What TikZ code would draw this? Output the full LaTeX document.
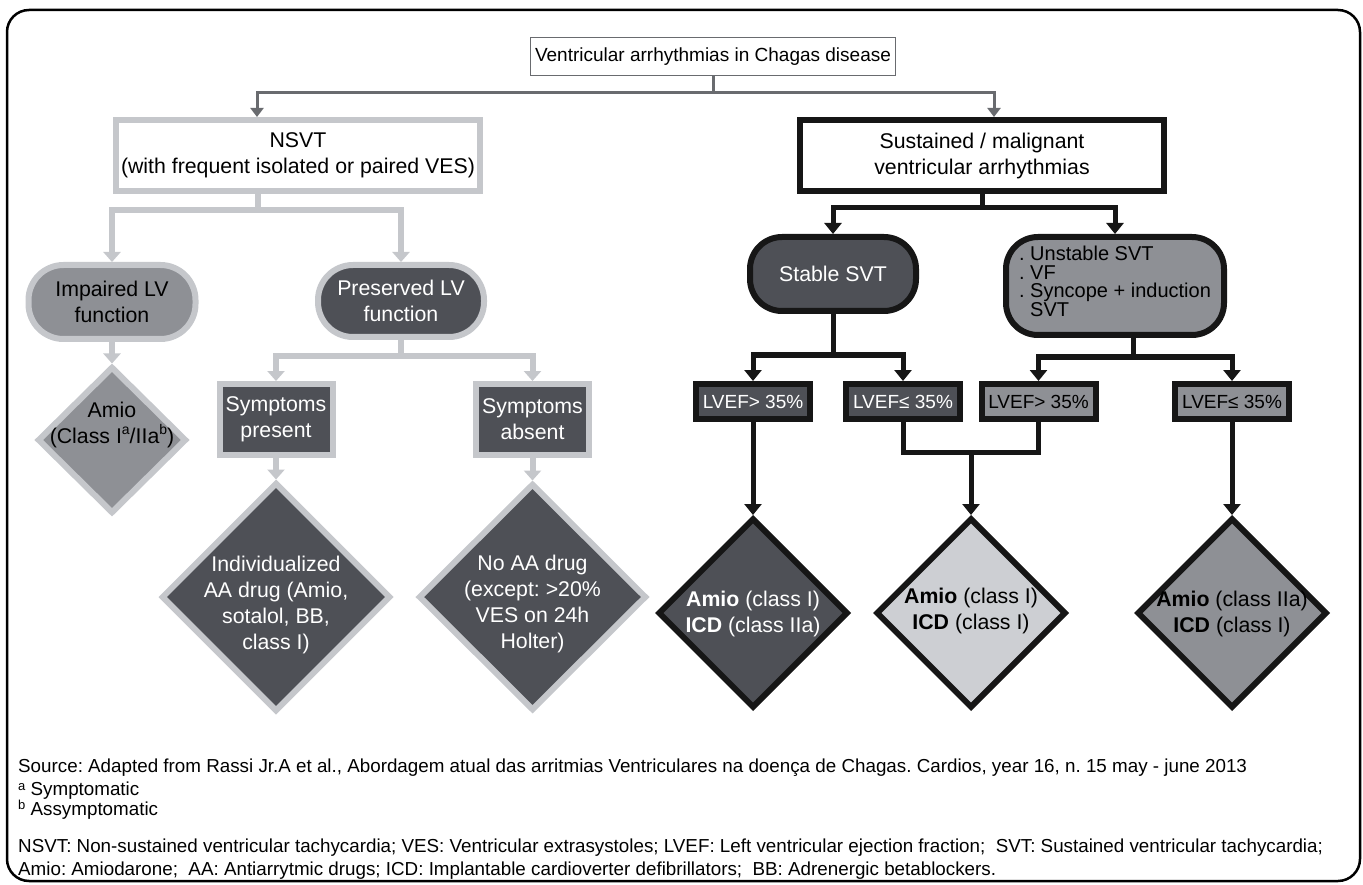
\documentclass[tikz,border=0pt]{standalone}
\usepackage{fontspec}
\setmainfont{Liberation Sans}
\usetikzlibrary{shapes.geometric,arrows.meta}
\definecolor{lgray}{RGB}{197,199,203}
\definecolor{dkfill}{RGB}{78,80,86}
\definecolor{mdfill}{RGB}{142,144,149}
\definecolor{ltfill}{RGB}{205,207,211}
\definecolor{topgray}{RGB}{105,107,111}
\definecolor{blk}{RGB}{22,22,22}
\newcommand{\bigtxt}{\fontsize{21.3}{26}\selectfont}
\newcommand{\lvtxt}{\fontsize{19}{22}\selectfont}
\newcommand{\foottxt}{\fontsize{18.8}{21}\selectfont}
\newcommand{\upidx}[1]{\raisebox{0.42em}{\fontsize{14}{14}\selectfont #1}}
\newcommand{\footidx}[1]{\raisebox{0.3em}{\fontsize{13}{13}\selectfont #1}}
\frenchspacing

\begin{document}
\begin{tikzpicture}[x=1pt, y=-1pt,
    box/.style={rectangle, line width=6pt, inner sep=0pt, align=center, font=\bigtxt},
    lgbox/.style={box, draw=lgray},
    bkbox/.style={box, draw=blk},
    dmd/.style={diamond, aspect=1, line width=6pt, inner sep=0pt},
    txt/.style={align=center, inner sep=0pt, font=\bigtxt},
    foot/.style={anchor=west, inner sep=0pt, font=\foottxt},
    gline/.style={draw=topgray, line width=3pt},
    garr/.style={gline, -{Triangle[width=13pt,length=9pt]}},
    lgline/.style={draw=lgray, line width=6pt},
    lgarr/.style={lgline, -{Triangle[width=17pt,length=10pt]}},
    bline/.style={draw=blk, line width=5pt},
    barr/.style={bline, -{Triangle[width=17pt,length=11pt]}}]
        \useasboundingbox (0,0) rectangle (1363,885);
        \draw[line width=2.5pt, rounded corners=22pt] (7,10) rectangle (1360,881);

        % top level
        \node[draw=topgray, line width=1.3pt, fill=white, minimum width=365pt, minimum height=38pt,
            inner sep=0pt, font=\fontsize{19}{23}\selectfont] (title) at (713,56.5)
            {Ventricular arrhythmias in Chagas disease};
        \node[lgbox, fill=white, minimum width=364pt, minimum height=71pt] (nsvt) at (298,155.5)
            {NSVT\\(with frequent isolated or paired VES)};
        \node[bkbox, fill=white, minimum width=364pt, minimum height=71pt] (sust) at (982,155.5)
            {Sustained / malignant\\ventricular arrhythmias};

        % left branch
        \node[lgbox, rounded corners=35pt, fill=mdfill, minimum width=167pt, minimum height=74pt] (imp) at (112,302)
            {Impaired LV\\function};
        \node[lgbox, rounded corners=35pt, fill=dkfill, text=white, minimum width=166pt, minimum height=72pt] (pres) at (401,301)
            {Preserved LV\\function};
        \node[dmd, draw=lgray, fill=mdfill, minimum width=149pt, minimum height=147pt] (amio) at (112,440) {};
        \node[txt] (amiot) at (112,425) {Amio\\(Class I\upidx{a}/IIa\upidx{b})};
        \node[lgbox, fill=dkfill, text=white, minimum width=113pt, minimum height=71pt] (sympres) at (276,419.5)
            {Symptoms\\present};
        \node[lgbox, fill=dkfill, text=white, minimum width=113pt, minimum height=71pt] (symabs) at (532.5,419.5)
            {Symptoms\\absent};
        \node[dmd, draw=lgray, fill=dkfill, minimum width=229pt, minimum height=229pt] (ind) at (276,597) {};
        \node[txt, text=white] (indt) at (276,604.5) {Individualized\\AA drug (Amio,\\sotalol, BB,\\class I)};
        \node[dmd, draw=lgray, fill=dkfill, minimum width=228pt, minimum height=227pt] (noaa) at (532.5,597) {};
        \node[txt, text=white] (noaat) at (532.5,604) {No AA drug\\(except: >20\%\\VES on 24h\\Holter)};

        % right branch
        \node[bkbox, rounded corners=32pt, fill=dkfill, text=white, minimum width=166pt, minimum height=74pt] (stable) at (833,274)
            {Stable SVT};
        \node[bkbox, rounded corners=32pt, fill=mdfill, minimum width=218pt, minimum height=98pt] (unst) at (1115,286) {};
        \node[align=left, inner sep=0pt, font=\fontsize{20}{18.5}\selectfont] (unstt) at (1115,281.5)
            {. Unstable SVT\\. VF\\. Syncope + induction\\\phantom{. }SVT};
        \foreach \nm/\x/\fc/\tc/\lb in {lv1/753/dkfill/white/{LVEF> 35\%}, lv2/903/dkfill/white/{LVEF≤ 35\%},
                lv3/1038.5/mdfill/black/{LVEF> 35\%}, lv4/1232/mdfill/black/{LVEF≤ 35\%}} {
            \node[bkbox, fill=\fc, text=\tc, font=\lvtxt, minimum width=114pt, minimum height=35pt] (\nm) at (\x,401.5) {\lb};
        }
        \node[dmd, draw=blk, fill=dkfill, minimum width=190pt, minimum height=190pt] (d1) at (753,613) {};
        \node[txt, text=white] (d1t) at (753,614) {\textbf{Amio} (class I)\\\textbf{ICD} (class IIa)};
        \node[dmd, draw=blk, fill=ltfill, minimum width=190pt, minimum height=190pt] (d2) at (971,613) {};
        \node[txt] (d2t) at (971,610.5) {\textbf{Amio} (class I)\\\textbf{ICD} (class I)};
        \node[dmd, draw=blk, fill=mdfill, minimum width=190pt, minimum height=190pt] (d3) at (1232,613) {};
        \node[txt] (d3t) at (1232,614) {\textbf{Amio} (class IIa)\\\textbf{ICD} (class I)};

        % connectors
        \coordinate (tj) at (713,93);
        \draw[gline] (title.south) -- (tj);
        \draw[garr] (tj) -| ([xshift=-41pt]nsvt.north);
        \draw[garr] (tj) -| ([xshift=12pt]sust.north);

        \coordinate (nj) at (258,210);
        \draw[lgline] ([xshift=-40pt]nsvt.south) -- (nj);
        \draw[lgarr] (nj) -| (imp.north);
        \draw[lgarr] (nj) -| (pres.north);
        \draw[lgarr] (imp.south) -- (amio.north);
        \coordinate (pj) at (401,356);
        \draw[lgline] (pres.south) -- (pj);
        \draw[lgarr] (pj) -| (sympres.north);
        \draw[lgarr] (pj) -| (symabs.north);
        \draw[lgarr] (sympres.south) -- (ind.north);
        \draw[lgarr] (symabs.south) -- (noaa.north);

        \coordinate (sj) at (982,208);
        \draw[bline] (sust.south) -- (sj);
        \draw[barr] (sj) -| (stable.north);
        \draw[barr] (sj) -| (unst.north);
        \coordinate (stj) at (833,355);
        \draw[bline] (stable.south) -- (stj);
        \draw[barr] (stj) -| (lv1.north);
        \draw[barr] (stj) -| (lv2.north);
        \coordinate (uj) at (1133,357);
        \draw[bline] ([xshift=18pt]unst.south) -- (uj);
        \draw[barr] (uj) -| (lv3.north);
        \draw[barr] (uj) -| (lv4.north);
        \draw[barr] (lv1.south) -- (d1.north);
        \coordinate (mj) at (971,452);
        \draw[bline] (lv2.south) |- (mj) -| (lv3.south);
        \draw[barr] (mj) -- (d2.north);
        \draw[barr] (lv4.south) -- (d3.north);

        % notes
        \node[foot] (src) at (18,768) {Source: Adapted from Rassi Jr.A et al., Abordagem atual das arritmias Ventriculares na doença de Chagas. Cardios, year 16, n. 15 may - june 2013};
        \node[foot] (fna) at (18,791) {\footidx{a} Symptomatic};
        \node[foot] (fnb) at (18,810) {\footidx{b} Assymptomatic};
        \node[foot] (abb1) at (18,848) {NSVT: Non-sustained ventricular tachycardia; VES: Ventricular extrasystoles; LVEF: Left ventricular ejection fraction;\ \ SVT: Sustained ventricular tachycardia;};
        \node[foot] (abb2) at (18,871) {Amio: Amiodarone;\ \ AA: Antiarrytmic drugs; ICD: Implantable cardioverter defibrillators;\ \ BB: Adrenergic betablockers.};
    \end{tikzpicture}
\end{document}
